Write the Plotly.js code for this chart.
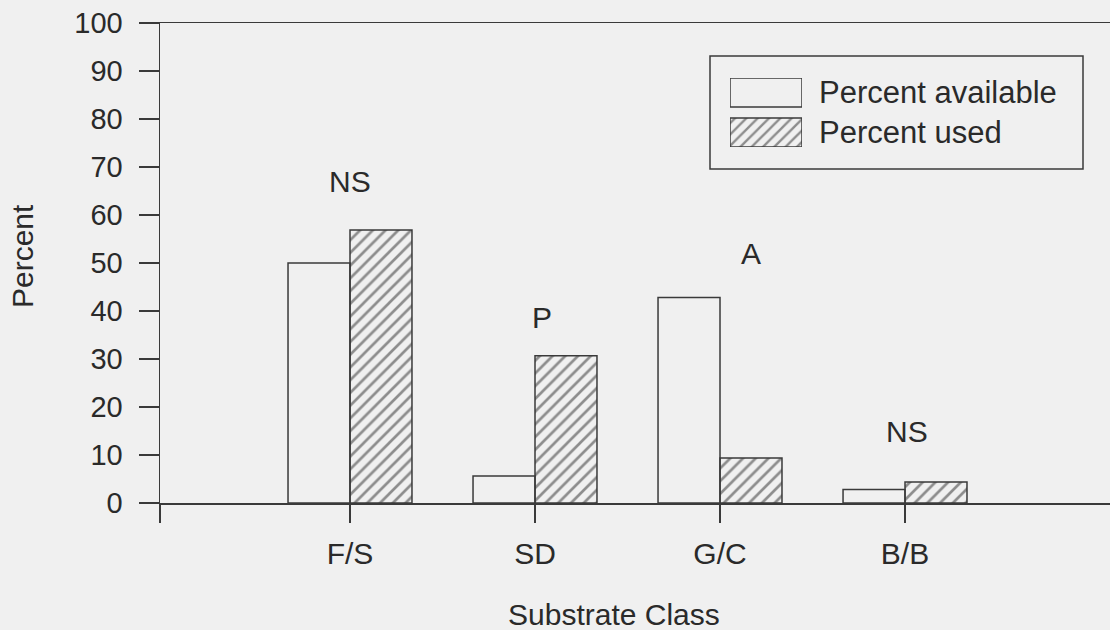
<!DOCTYPE html>
<html>
<head>
<meta charset="utf-8">
<script src="https://cdn.plot.ly/plotly-3.0.1.min.js"></script>
<style>
  html, body { margin: 0; padding: 0; background: #f0f0f0; }
  #chart { width: 1110px; height: 630px; }
</style>
</head>
<body>
<div id="chart"></div>
<script>
// ---- data ----
const categories = ['F/S', 'SD', 'G/C', 'B/B'];
const percentAvailable = [50, 5.6, 42.8, 2.8];
const percentUsed = [56.9, 30.7, 9.4, 4.4];
const seriesNames = ['Percent available', 'Percent used'];
const sigLabels = ['NS', 'P', 'A', 'NS'];
const sigX = [0.0, 1.04, 2.17, 3.01];
const sigY = [66.9, 38.75, 51.9, 15];
const yTicks = [0, 10, 20, 30, 40, 50, 60, 70, 80, 90, 100];

// ---- styling ----
const FONT = 'Arial, "Liberation Sans", Helvetica, sans-serif';
const INK = '#2a2a2a';
const LINE = '#3a3a3a';
const BG = '#f0f0f0';
const xIdx = categories.map((_, i) => i);
const xStart = -1.027, xEnd = 4.108;

const hatch = { shape: '/', fgcolor: '#2a2a2a', bgcolor: 'rgba(0,0,0,0)', size: 9, solidity: 0.3, fillmode: 'overlay' };

const traces = [
  {
    type: 'bar', name: seriesNames[0], x: xIdx, y: percentAvailable,
    marker: { color: 'rgba(0,0,0,0)', line: { color: LINE, width: 1.5 } },
    showlegend: false, hoverinfo: 'x+y'
  },
  {
    type: 'bar', name: seriesNames[1], x: xIdx, y: percentUsed,
    marker: { color: 'rgba(0,0,0,0)', line: { color: LINE, width: 1.5 }, pattern: hatch },
    showlegend: false, hoverinfo: 'x+y'
  },
  // legend swatches (drawn as a tiny bar chart whose tick labels are the series names)
  {
    type: 'bar', orientation: 'h', xaxis: 'x2', yaxis: 'y2',
    y: [seriesNames[1], seriesNames[0]], x: [1, 1],
    marker: {
      color: 'rgba(0,0,0,0)', line: { color: LINE, width: 1.5 },
      pattern: { shape: ['/', ''], fgcolor: '#2a2a2a', bgcolor: 'rgba(0,0,0,0)', size: 8, solidity: 0.3, fillmode: 'overlay' }
    },
    width: 0.725, showlegend: false, hoverinfo: 'skip'
  }
];

const annotations = sigLabels.map((t, i) => ({
  x: sigX[i], y: sigY[i], xref: 'x', yref: 'y', text: t, showarrow: false,
  font: { family: FONT, size: 30, color: INK }, xanchor: 'center', yanchor: 'middle'
}));
annotations.push({
  xref: 'paper', yref: 'paper', x: (614 - 160) / 950, y: (503 - 614) / 480,
  text: 'Substrate Class', showarrow: false, xanchor: 'center', yanchor: 'middle',
  font: { family: FONT, size: 30, color: INK }
});
annotations.push({
  xref: 'paper', yref: 'paper', x: (22 - 160) / 950, y: (503 - 256) / 480,
  text: 'Percent', showarrow: false, textangle: -90, xanchor: 'center', yanchor: 'middle',
  font: { family: FONT, size: 30, color: INK }
});

const layout = {
  width: 1110, height: 630,
  margin: { l: 160, r: 0, t: 23, b: 127 },
  paper_bgcolor: BG, plot_bgcolor: 'rgba(0,0,0,0)',
  barmode: 'group', bargap: 0.33, bargroupgap: 0,
  showlegend: false,
  font: { family: FONT, color: INK, size: 30 },
  xaxis: {
    range: [xStart, xEnd], tickmode: 'array',
    tickvals: [xStart].concat(xIdx), ticktext: [''].concat(categories),
    ticks: 'outside', ticklen: 18, tickwidth: 1.5, tickcolor: LINE,
    showline: true, linecolor: LINE, linewidth: 1.5, mirror: true,
    showgrid: false, zeroline: false, ticklabelstandoff: 5,
    tickfont: { family: FONT, size: 30, color: INK }
  },
  yaxis: {
    range: [0, 100], tickmode: 'array', tickvals: yTicks,
    ticks: 'outside', ticklen: 20, tickwidth: 1.5, tickcolor: LINE,
    showline: true, linecolor: LINE, linewidth: 1.5,
    showgrid: false, zeroline: false, ticklabelstandoff: 10,
    tickfont: { family: FONT, size: 29, color: INK }
  },
  xaxis2: {
    domain: [(730 - 160) / 950, (802 - 160) / 950], range: [0, 1],
    anchor: 'y2', visible: false, fixedrange: true
  },
  yaxis2: {
    domain: [(503 - 147) / 480, (503 - 78) / 480], range: [-0.3625, 1.3625],
    anchor: 'x2', side: 'right', showline: false, showgrid: false, zeroline: false,
    ticks: '', ticklabelstandoff: 16, fixedrange: true,
    tickfont: { family: FONT, size: 31, color: INK }
  },
  shapes: [{
    type: 'rect', xref: 'paper', yref: 'paper',
    x0: (710 - 160) / 950, x1: (1083 - 160) / 950,
    y0: (503 - 169) / 480, y1: (503 - 56) / 480,
    line: { color: LINE, width: 1.5 }, fillcolor: 'rgba(0,0,0,0)'
  }],
  annotations: annotations
};

Plotly.newPlot('chart', traces, layout, { displayModeBar: false, staticPlot: true });
</script>
</body>
</html>
